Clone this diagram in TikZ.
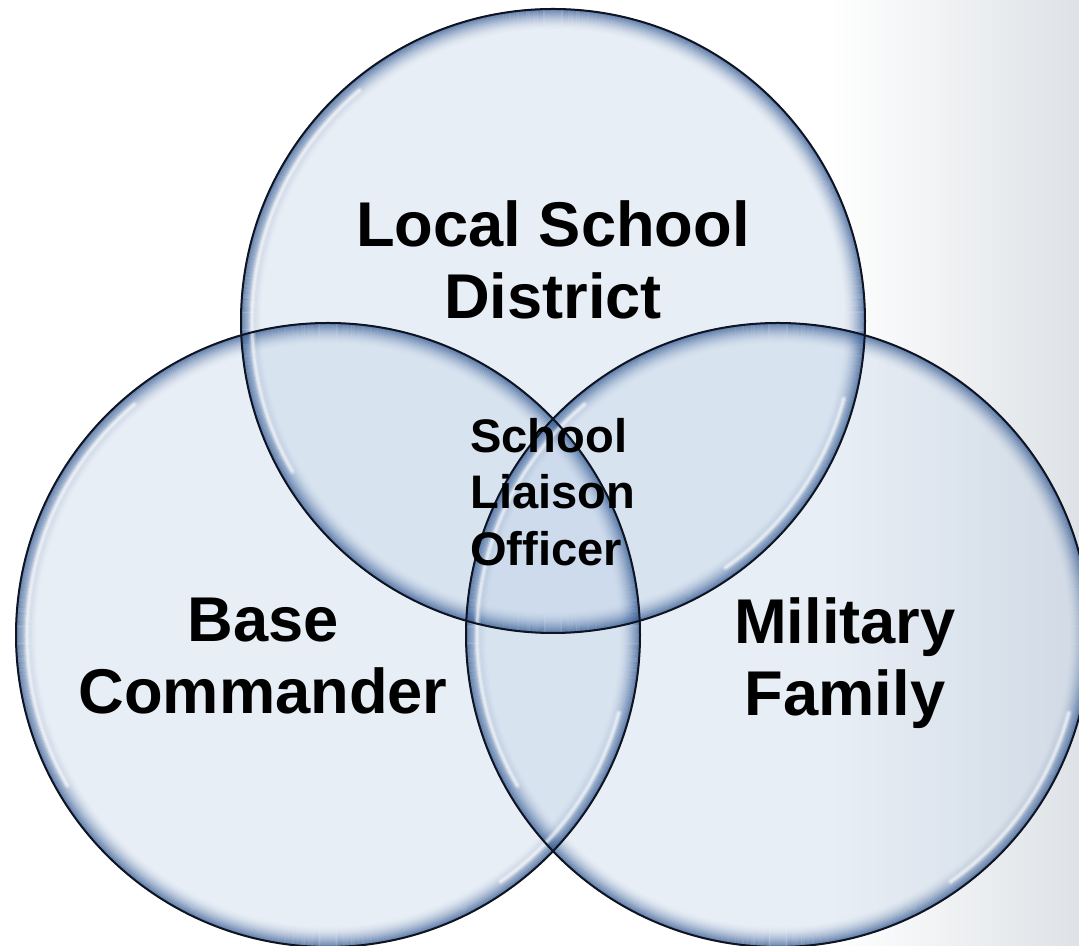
\documentclass[tikz,border=0pt]{standalone}
\usepackage{fontspec}
\setmainfont{Liberation Sans}
\begin{document}
\begin{tikzpicture}[x=0.02cm,y=0.02cm,
  bubble/.style={fill={rgb,255:red,184;green,204;blue,228}, fill opacity=0.32},
  rim/.style={line width=0.024cm, draw={rgb,255:red,50;green,88;blue,145}},
  shine/.style={draw=white, line cap=round},
  edge/.style={draw={rgb,255:red,15;green,20;blue,35}, line width=0.04cm},
  biglabel/.style={font=\bfseries\fontsize{36}{41}\selectfont, align=center, inner sep=0pt, text=black},
  smalllabel/.style={font=\bfseries\fontsize{26.8}{32.3}\selectfont, align=left, inner sep=0pt, text=black}]
\useasboundingbox (0,0) rectangle (1079,946);
\fill[white] (0,0) rectangle (1079,946);
\shade[left color=white, right color={rgb,255:red,222;green,226;blue,230}] (830,0) rectangle (1079,946);
\coordinate (T) at (553,625);
\coordinate (L) at (328,311);
\coordinate (R) at (778,311);
% fills
\foreach \c in {T,L,R}{
  \fill[bubble] (\c) circle[radius=312];
}
% inner rim glow
\foreach \c in {T,L,R}{
  \foreach \i in {0,...,21}{
    \pgfmathsetmacro\op{0.7*(1-\i/22)^2}
    \draw[rim, draw opacity=\op] (\c) circle[radius=312-\i];
  }
}
% soft highlights
\foreach \c in {T,L,R}{
  \foreach \w/\o in {0.14/0.15, 0.09/0.25, 0.05/0.45}{
    \draw[shine, line width=\w cm, draw opacity=\o, shift={(\c)}] (130:301) arc[start angle=130, end angle=210, radius=301];
    \draw[shine, line width=\w cm, draw opacity=\o, shift={(\c)}] (-55:301) arc[start angle=-55, end angle=-15, radius=301];
  }
}
% outlines
\foreach \c in {T,L,R}{
  \draw[edge] (\c) circle[radius=312];
}
\node[biglabel] (lsd) at (553,686) {Local School\\District};
\node[biglabel] (bc) at (263,290) {Base\\Commander};
\node[biglabel] (mf) at (845,283) {Military\\Family};
\node[smalllabel, anchor=west] (slo) at (470,454) {School\\Liaison\\Officer};
\end{tikzpicture}
\end{document}
